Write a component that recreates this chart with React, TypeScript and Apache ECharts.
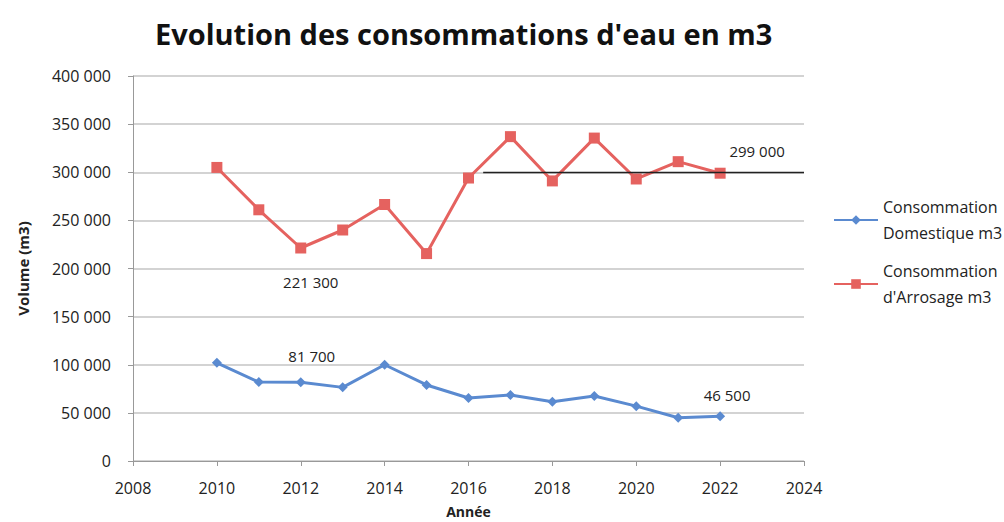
import React, { useEffect, useRef } from "react";
import * as echarts from "echarts";

const years = [2010, 2011, 2012, 2013, 2014, 2015, 2016, 2017, 2018, 2019, 2020, 2021, 2022];
const domestique = [102000, 82000, 81700, 76500, 100000, 79000, 65500, 68500, 61500, 67500, 57000, 45000, 46500];
const arrosage = [305000, 261000, 221300, 240000, 266500, 215500, 294000, 337000, 291000, 335500, 293000, 311000, 299000];
const nameDom = "Consommation Domestique m3";
const nameArr = "Consommation d'Arrosage m3";
const titleText = "Evolution des consommations d'eau en m3";
const xName = "Année";
const yName = "Volume (m3)";

const FONT = "Open Sans";

const fmtSpace = (v: number) => {
  const s = String(Math.round(v));
  return s.replace(/\B(?=(\d{3})+(?!\d))/g, " ");
};

export default function App() {
  const ref = useRef<HTMLDivElement>(null);
  useEffect(() => {
    if (!ref.current) return;
    const chart = echarts.init(ref.current, undefined, { renderer: "svg" });
    const domData = years.map((y, i) => {
      const item: any = { value: [y, domestique[i]] };
      if (y === 2012) item.label = { show: true, position: "top", offset: [11, -9] };
      if (y === 2022) item.label = { show: true, position: "top", offset: [7, -4] };
      return item;
    });
    const arrData = years.map((y, i) => {
      const item: any = { value: [y, arrosage[i]] };
      if (y === 2012) item.label = { show: true, position: "bottom", offset: [10, 16] };
      if (y === 2022) item.label = { show: true, position: "top", offset: [37, -4] };
      return item;
    });
    const labelStyle = {
      color: "#222",
      fontFamily: FONT,
      fontSize: 15,
      formatter: (p: any) => fmtSpace(p.value[1]),
    };
    const legendText = { fontFamily: FONT, fontSize: 16, color: "#222", lineHeight: 26, padding: [26, 0, 0, 0] };
    chart.setOption({
      animation: false,
      backgroundColor: "#fff",
      title: {
        text: titleText,
        left: 150,
        top: 14,
        textStyle: { fontFamily: FONT, fontSize: 29, fontWeight: "bold", color: "#111" },
      },
      grid: { left: 133, right: 200, top: 76, bottom: 61, outerBoundsMode: "none", containLabel: false },
      legend: [
        {
          data: [nameDom],
          orient: "vertical",
          left: 833,
          top: 181,
          padding: 0,
          itemWidth: 44,
          itemHeight: 12,
          itemGap: 0,
          formatter: () => "Consommation\nDomestique m3",
          textStyle: legendText,
        },
        {
          data: [nameArr],
          orient: "vertical",
          left: 833,
          top: 245,
          padding: 0,
          itemWidth: 44,
          itemHeight: 12,
          itemGap: 0,
          formatter: () => "Consommation\nd'Arrosage m3",
          textStyle: legendText,
        },
      ],
      xAxis: {
        type: "value",
        min: 2008,
        max: 2024,
        interval: 2,
        name: xName,
        nameLocation: "middle",
        nameGap: 43,
        nameTextStyle: { fontFamily: FONT, fontSize: 14, fontWeight: "bold", color: "#222" },
        axisLine: { show: true, lineStyle: { color: "#999" } },
        axisTick: { show: true, length: 5, lineStyle: { color: "#999" } },
        axisLabel: { fontFamily: FONT, fontSize: 16, color: "#222", margin: 19, formatter: (v: number) => String(v) },
        splitLine: { show: false },
      },
      yAxis: {
        type: "value",
        min: 0,
        max: 400000,
        interval: 50000,
        name: yName,
        nameLocation: "middle",
        nameGap: 103,
        nameTextStyle: { fontFamily: FONT, fontSize: 15, fontWeight: "bold", color: "#222" },
        axisLine: { show: true, lineStyle: { color: "#999" } },
        axisTick: { show: true, length: 5, lineStyle: { color: "#999" } },
        axisLabel: { fontFamily: FONT, fontSize: 16, color: "#222", margin: 22, formatter: (v: number) => fmtSpace(v) },
        splitLine: { show: true, lineStyle: { color: "#c4c4c4", width: 1.5 } },
      },
      series: [
        {
          name: nameDom,
          type: "line",
          data: domData,
          symbol: "diamond",
          symbolSize: 10,
          color: "#5a8ad0",
          lineStyle: { width: 3, color: "#5a8ad0" },
          itemStyle: { color: "#5a8ad0" },
          label: { show: false, ...labelStyle },
          z: 3,
        },
        {
          name: nameArr,
          type: "line",
          data: arrData,
          symbol: "rect",
          symbolSize: 11,
          color: "#e5625f",
          lineStyle: { width: 3, color: "#e5625f" },
          itemStyle: { color: "#e5625f" },
          label: { show: false, ...labelStyle },
          z: 3,
          markLine: {
            silent: true,
            symbol: "none",
            label: { show: false },
            lineStyle: { color: "#222", width: 1.3, type: "solid" },
            data: [[{ coord: [2016.35, 300000] }, { coord: [2024, 300000] }]],
          },
        },
      ],
    });
    return () => chart.dispose();
  }, []);
  return <div ref={ref} style={{ position: "absolute", left: 0, top: 0, width: 1004, height: 522 }} />;
}
